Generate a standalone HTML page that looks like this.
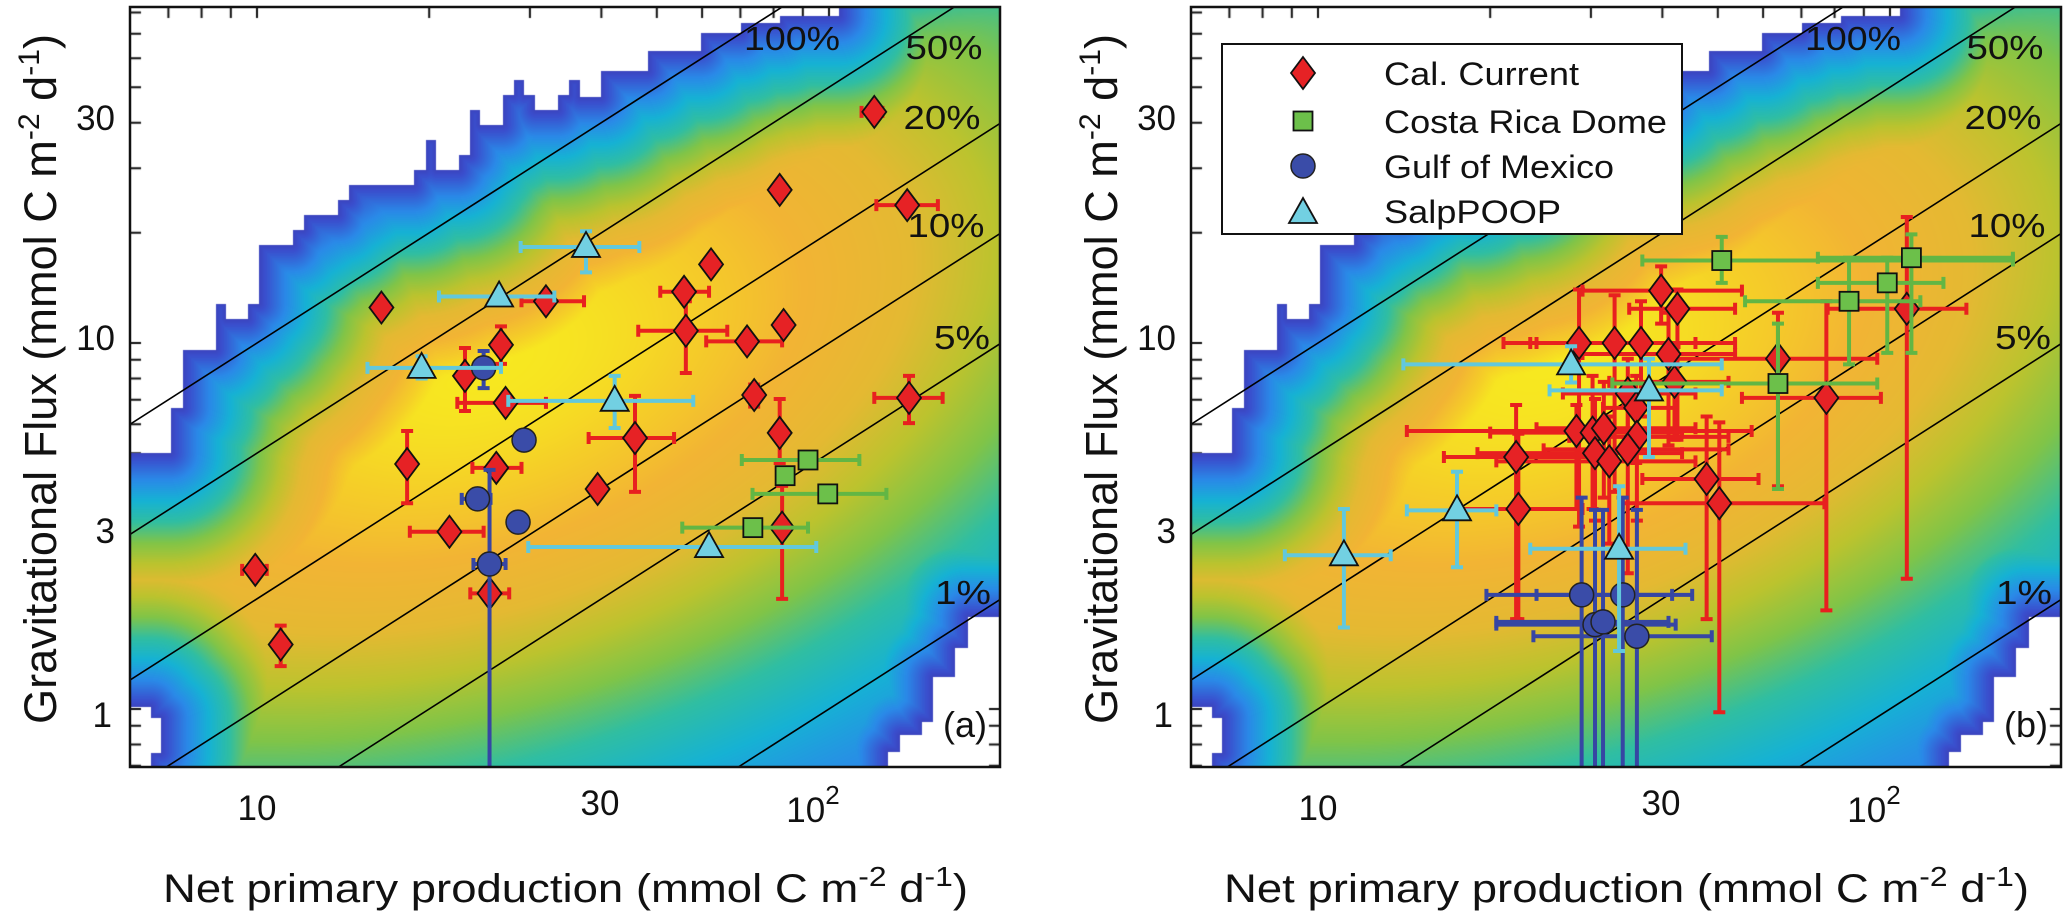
<!DOCTYPE html>
<html><head><meta charset="utf-8">
<style>
html,body{margin:0;width:2066px;height:921px;overflow:hidden}
body{background:#fff;position:relative;font-family:"Liberation Sans",Arial,sans-serif}
canvas{position:absolute;top:7px}
svg{position:absolute;left:0;top:0;overflow:hidden}
text{font-family:"Liberation Sans",Arial,sans-serif;fill:#111}
</style></head>
<body>
<canvas id="bgA" width="870" height="760" style="left:130px"></canvas>
<canvas id="bgB" width="870" height="760" style="left:1191px"></canvas>
<svg id="chart" width="2066" height="921">
<defs>
<clipPath id="clipP"><rect x="0" y="0" width="870" height="760"/></clipPath>
</defs>
<g id="panelA" transform="translate(130,7)">
  <g id="plotA" clip-path="url(#clipP)"></g>
</g>
<g id="panelB" transform="translate(1191,7)">
  <g id="plotB" clip-path="url(#clipP)"></g>
</g>

<g font-size="35" text-anchor="end">
<text x="115" y="130">30</text><text x="115" y="350">10</text><text x="115" y="543">3</text><text x="112" y="727">1</text>
</g>
<g font-size="35" text-anchor="middle">
<text x="257" y="820">10</text><text x="600" y="815">30</text>
<text x="813" y="822">10<tspan dy="-18" font-size="26">2</tspan></text>
</g>
<text transform="translate(56,379) rotate(-90)" text-anchor="middle" font-size="45" textLength="690" lengthAdjust="spacingAndGlyphs">Gravitational Flux (mmol C m<tspan dy="-17" font-size="30">-2</tspan><tspan dy="17"> d</tspan><tspan dy="-17" font-size="30">-1</tspan><tspan dy="17">)</tspan></text>
<text x="163" y="902" font-size="40" textLength="805" lengthAdjust="spacingAndGlyphs">Net primary production (mmol C m<tspan dy="-16" font-size="28">-2</tspan><tspan dy="16"> d</tspan><tspan dy="-16" font-size="28">-1</tspan><tspan dy="16">)</tspan></text>
<text x="965" y="737" font-size="36" text-anchor="middle">(a)</text>

<g font-size="35" text-anchor="end">
<text x="1176" y="130">30</text><text x="1176" y="350">10</text><text x="1176" y="543">3</text><text x="1173" y="727">1</text>
</g>
<g font-size="35" text-anchor="middle">
<text x="1318" y="820">10</text><text x="1661" y="815">30</text>
<text x="1874" y="822">10<tspan dy="-18" font-size="26">2</tspan></text>
</g>
<text transform="translate(1117,379) rotate(-90)" text-anchor="middle" font-size="45" textLength="690" lengthAdjust="spacingAndGlyphs">Gravitational Flux (mmol C m<tspan dy="-17" font-size="30">-2</tspan><tspan dy="17"> d</tspan><tspan dy="-17" font-size="30">-1</tspan><tspan dy="17">)</tspan></text>
<text x="1224" y="902" font-size="40" textLength="805" lengthAdjust="spacingAndGlyphs">Net primary production (mmol C m<tspan dy="-16" font-size="28">-2</tspan><tspan dy="16"> d</tspan><tspan dy="-16" font-size="28">-1</tspan><tspan dy="16">)</tspan></text>
<text x="2026" y="737" font-size="36" text-anchor="middle">(b)</text>

<g id="legend">
<rect x="1222" y="44" width="460" height="190" fill="#fff" stroke="#111" stroke-width="2"/>
<text x="1384" y="85" font-size="32" textLength="195" lengthAdjust="spacingAndGlyphs">Cal. Current</text>
<text x="1384" y="133" font-size="32" textLength="283" lengthAdjust="spacingAndGlyphs">Costa Rica Dome</text>
<text x="1384" y="178" font-size="32" textLength="230" lengthAdjust="spacingAndGlyphs">Gulf of Mexico</text>
<text x="1384" y="223" font-size="32" textLength="177" lengthAdjust="spacingAndGlyphs">SalpPOOP</text>
</g>
</svg>
<script>
const effValues=[1,0.5,0.2,0.1,0.05,0.01];
const effLabels=["100%","50%","20%","10%","5%","1%"];
const xTickVals=[7,8,9,10,20,30,40,50,60,70,80,90,100,200];
const yTickVals=[0.7,0.8,0.9,1,2,3,4,5,6,7,8,9,10,20,30,40,50,60,70,80];

const aCalX=[120,82,137,62.2,55.8,32,16.5,56.2,83.3,71.9,26.7,23.1,27.2,74,138,45.8,82,18.3,26.2,39.4,21.7,82.8,9.93,25.5,11.0];
const aCalY=[42.8,26.2,23.8,16.4,13.8,13.0,12.5,10.8,11.2,10.1,9.88,8.13,6.86,7.21,7.08,5.5,5.68,4.67,4.56,3.99,3.05,3.13,2.40,2.07,1.50];
const aCalXlo=[114,82,121,62.2,50.7,29.0,16.5,46.4,83.3,61.0,26.7,23.1,22.4,74,120,38.0,82,18.3,23.8,39.4,18.5,82.8,9.42,23.6,11.0];
const aCalXhi=[124,82,155,62.2,61.7,37.3,16.5,66.4,83.3,82.8,26.7,23.1,32.0,74,158,53.6,82,18.3,29.0,39.4,24.9,82.8,10.4,27.6,11.0];
const aCalYlo=[42.8,26.2,23.8,16.4,13.8,13.0,12.5,8.28,11.2,10.1,8.77,6.52,6.86,6.7,6.04,3.92,4.70,3.65,4.56,3.99,3.05,2.0,2.40,2.07,1.31];
const aCalYhi=[42.8,26.2,23.8,16.4,13.8,13.0,12.5,13.0,11.2,10.1,11.1,9.69,6.86,7.7,8.13,7.17,7.03,5.75,4.56,3.99,3.05,4.07,2.40,2.07,1.69];

const aCrdX=[91.9,83.8,99.5,73.6];
const aCrdY=[4.79,4.34,3.87,3.13];
const aCrdXlo=[70.4,83.8,73.5,55.4];
const aCrdXhi=[113,83.8,126,91.9];
const aCrdYlo=[4.79,4.34,3.87,3.13];
const aCrdYhi=[4.79,4.34,3.87,3.13];

const aGomX=[24.9,29.3,24.3,28.6,25.5];
const aGomY=[8.55,5.43,3.75,3.24,2.49];
const aGomXlo=[24.9,29.3,22.8,28.6,23.9];
const aGomXhi=[24.9,29.3,25.6,28.6,27.2];
const aGomYlo=[7.53,5.43,3.75,3.24,0.3];
const aGomYhi=[9.51,5.43,3.75,3.24,4.5];

const aSalpX=[37.6,26.5,19.4,42.2,61.7];
const aSalpY=[18.3,13.4,8.55,6.95,2.77];
const aSalpXlo=[28.9,20.8,15.6,27.5,29.8];
const aSalpXhi=[46.6,33.1,26.7,57.9,95];
const aSalpYlo=[15.6,13.4,8.0,5.86,2.77];
const aSalpYhi=[20.2,13.4,9.2,8.13,2.77];

const bCalX=[39.8,42.5,28.6,33.0,36.7,41.0,63.7,42.0,34.8,36.0,77.4,28.3,30.2,31.6,36.1,34.8,30.5,32.3,22.2,22.4,47.8,50.3,107];
const bCalY=[13.9,12.4,10.0,10.0,10.0,9.33,9.06,7.83,7.28,6.65,7.08,5.75,5.69,5.85,5.54,5.12,5.0,4.75,4.88,3.52,4.25,3.65,12.4];
const bCalXlo=[29.0,35.0,21.1,23.5,24.1,29.0,41.0,32.3,26.8,31.5,55.1,14.3,20.0,24.1,27.5,24.8,19.0,20.5,16.6,17.5,36.9,34.1,77.8];
const bCalXhi=[55.1,53.6,41.0,45.7,53.6,53.6,95.0,52.2,45.7,42.2,96.4,57.3,43.3,45.7,52.2,52.2,43.3,45.7,29.8,29.0,58.9,76.8,136];
const bCalYlo=[11.3,5.44,3.15,3.92,6.30,5.25,4.06,5.44,5.44,4.70,1.86,3.52,3.52,3.78,3.27,2.35,3.27,2.83,1.76,1.76,1.76,0.98,2.27];
const bCalYhi=[16.2,14.0,14.0,13.5,13.0,12.1,12.1,9.75,9.06,8.13,13.0,6.77,8.13,7.83,6.77,6.77,7.03,6.30,6.77,5.65,6.30,6.07,22.1];

const bCrdX=[50.8,109,98.9,84.8,63.7];
const bCrdY=[16.8,17.1,14.6,13.0,7.75];
const bCrdXlo=[36.9,74.8,74.8,55.8,32.7];
const bCrdXhi=[164,164,124,113,95.0];
const bCrdYlo=[14.6,9.4,9.4,8.74,3.99];
const bCrdYhi=[19.5,19.8,17.1,17.1,11.3];

const bGomX=[28.9,34.1,30.5,31.5,36.1];
const bGomY=[2.05,2.05,1.70,1.73,1.58];
const bGomXlo=[19.7,24.1,20.5,20.5,23.8];
const bGomXhi=[45.1,41.6,42.2,41.0,48.8];
const bGomYlo=[0.3,0.3,0.3,0.3,0.3];
const bGomYhi=[3.78,3.78,3.5,3.5,3.5];

const bSalpX=[27.7,37.9,17.5,11.1,33.6];
const bSalpY=[8.74,7.42,3.49,2.63,2.74];
const bSalpXlo=[14.1,25.4,14.3,8.75,23.5];
const bSalpXhi=[50.8,50.8,20.5,13.4,43.9];
const bSalpYlo=[7.8,4.88,2.44,1.67,1.44];
const bSalpYhi=[9.8,9.06,4.45,3.52,4.06];

const PW=870, PH=760;
function X(v){return 127+(Math.log10(v)-1)*572;}
function Y(v){return 702-Math.log10(v)*366;}

const NS="http://www.w3.org/2000/svg";
function mk(tag,attrs,parent){const e=document.createElementNS(NS,tag);for(const k in attrs)e.setAttribute(k,attrs[k]);parent.appendChild(e);return e;}

const whiteRects=[
[130,170,0,452],[170,182,0,407],[182,215,0,349],[215,226,0,303],[226,247,0,318],[247,258,0,303],
[258,292,0,244],[292,303,0,229],[303,337,0,214],[337,348,0,199],[348,413,0,184],[413,425,0,169],
[425,436,0,139],[436,458,0,169],[458,469,0,154],[469,480,0,109],[480,502,0,124],[502,513,0,94],
[513,524,0,79],[524,535,0,94],[535,557,0,109],[557,568,0,94],[568,580,0,79],[580,600,0,96],
[600,647,0,70],[647,700,0,50],[700,740,0,32],[740,779,0,22],[779,838,0,15],
[968,1000,617,800],[955,968,648,800],[933,955,677,800],[922,933,722,800],[900,922,735,800],[888,900,752,800],
[130,150,707,800],[150,160,718,752]
].map(r=>[r[0]-130,r[1]-130,r[2]-7,r[3]-7]);
const stops=[[0,[62,45,150]],[0.1,[58,78,205]],[0.2,[42,138,232]],[0.3,[22,178,212]],[0.4,[48,190,162]],[0.5,[128,196,72]],[0.6,[188,195,46]],[0.7,[228,185,50]],[0.82,[242,180,52]],[0.92,[245,206,40]],[1,[247,232,32]]];
function cmap(v){v=Math.max(0,Math.min(1,v));for(let i=1;i<stops.length;i++){if(v<=stops[i][0]){const a=stops[i-1],b=stops[i];const t=(v-a[0])/(b[0]-a[0]);return [0,1,2].map(k=>a[1][k]+(b[1][k]-a[1][k])*t);}}return stops[stops.length-1][1];}
function field(px,py){
  const u=1+(px-127)/572, w=(702-py)/366;
  const d=w-u, s=u+w;
  const dd=d+0.45, ds=s-2.35;
  const sd=dd>0?0.33:1.0;
  return Math.exp(-0.5*(dd/sd)*(dd/sd)-0.5*(ds/1.45)*(ds/1.45));
}
function renderBg(){
  const c=document.getElementById('bgA');const ctx=c.getContext('2d');
  const img=ctx.createImageData(PW,PH);const D=img.data;
  for(let py=0;py<PH;py++){for(let px=0;px<PW;px++){
    let inside=false,md=1e9;
    for(const r of whiteRects){
      const dx=px<r[0]?r[0]-px:(px>r[1]?px-r[1]:0);
      const dy=py<r[2]?r[2]-py:(py>r[3]?py-r[3]:0);
      if(dx===0&&dy===0){inside=true;break;}
      const dd=Math.sqrt(dx*dx+dy*dy);if(dd<md)md=dd;
    }
    const i=(py*PW+px)*4;
    if(inside){D[i+3]=0;continue;}
    let v=field(px,py);
    v=Math.min(v,0.07+md/210);
    const col=cmap(v);
    D[i]=col[0];D[i+1]=col[1];D[i+2]=col[2];D[i+3]=255;
  }}
  ctx.putImageData(img,0,0);
  ctx.globalCompositeOperation='destination-over';
  ctx.strokeStyle='#111';ctx.lineWidth=2;
  for(const v of xTickVals){const x=X(v);ctx.beginPath();ctx.moveTo(x,0);ctx.lineTo(x,11);ctx.moveTo(x,PH);ctx.lineTo(x,PH-11);ctx.stroke();}
  for(const v of yTickVals){const y=Y(v);ctx.beginPath();ctx.moveTo(0,y);ctx.lineTo(11,y);ctx.moveTo(PW,y);ctx.lineTo(PW-11,y);ctx.stroke();}
  ctx.fillStyle='#fff';ctx.fillRect(0,0,PW,PH);
  const cb=document.getElementById('bgB').getContext('2d');cb.drawImage(c,0,0);
}
renderBg();

const effPos=[[662,31],[814,40],[812,110],[816,218],[832,330],[833,585]];
function drawEff(plot,panel){
  effValues.forEach((p,i)=>{
    const l=mk('line',{x1:X(4),y1:Y(4*p),x2:X(400),y2:Y(400*p),stroke:'#000','stroke-width':1.6},plot);
    
    
  });
  effLabels.forEach((t,i)=>{
    const len=t.length===4?96:(t.length===3?77:56);
    const tx=mk('text',{x:effPos[i][0],y:effPos[i][1]+12,'text-anchor':'middle','font-size':33,textLength:len,lengthAdjust:'spacingAndGlyphs'},panel);
    tx.textContent=t;
    
    
  });
}

function marker(g,shape,cx,cy,fill){
  let e;
  if(shape==='diamond')e=mk('polygon',{points:`${cx},${cy-16} ${cx+12},${cy} ${cx},${cy+16} ${cx-12},${cy}`,fill:fill,stroke:'#111','stroke-width':1.8},g);
  else if(shape==='square')e=mk('rect',{x:cx-9.5,y:cy-9.5,width:19,height:19,fill:fill,stroke:'#111','stroke-width':1.8},g);
  else if(shape==='circle')e=mk('circle',{cx:cx,cy:cy,r:12,fill:fill,stroke:'#222','stroke-width':1.5},g);
  else e=mk('polygon',{points:`${cx},${cy-15} ${cx+14},${cy+10} ${cx-14},${cy+10}`,fill:fill,stroke:'#111','stroke-width':1.8},g);
  return e;
}
function drawSeries(plot,name,xs,ys,xlo,xhi,ylo,yhi,barColor,shape,fill){
  const g=mk('g',{},plot);
  
  
  xs.forEach((xv,i)=>{
    const cx=X(xv),cy=Y(ys[i]);
    if(xlo[i]!==xhi[i]){
      const a=X(xlo[i]),b=X(xhi[i]);
      const l=mk('path',{d:`M${a},${cy}H${b}M${a},${cy-6}V${cy+6}M${b},${cy-6}V${cy+6}`,stroke:barColor,'stroke-width':4,fill:'none'},g);
      
      
    }
    if(ylo[i]!==yhi[i]){
      const a=Y(ylo[i]),b=Y(yhi[i]);
      const l=mk('path',{d:`M${cx},${a}V${b}M${cx-6},${a}H${cx+6}M${cx-6},${b}H${cx+6}`,stroke:barColor,'stroke-width':4,fill:'none'},g);
      
      
    }
  });
  xs.forEach((xv,i)=>{
    const m=marker(g,shape,X(xv),Y(ys[i]),fill);
    
    
  });
}
const RED='#e8201f',REDF='#e62225',GRN='#62b644',GRNF='#6cc04a',BLU='#3646a3',BLUF='#3a4ca8',CYN='#62c8dc',CYNF='#72d0e2';

const plotA=document.getElementById('plotA'),plotB=document.getElementById('plotB');
const panelA=document.getElementById('panelA'),panelB=document.getElementById('panelB');
drawEff(plotA,panelA);drawEff(plotB,panelB);

drawSeries(plotA,'a-cal-current',aCalX,aCalY,aCalXlo,aCalXhi,aCalYlo,aCalYhi,RED,'diamond',REDF);
drawSeries(plotA,'a-costa-rica-dome',aCrdX,aCrdY,aCrdXlo,aCrdXhi,aCrdYlo,aCrdYhi,GRN,'square',GRNF);
drawSeries(plotA,'a-gulf-of-mexico',aGomX,aGomY,aGomXlo,aGomXhi,aGomYlo,aGomYhi,BLU,'circle',BLUF);
drawSeries(plotA,'a-salppoop',aSalpX,aSalpY,aSalpXlo,aSalpXhi,aSalpYlo,aSalpYhi,CYN,'triangle',CYNF);

drawSeries(plotB,'b-cal-current',bCalX,bCalY,bCalXlo,bCalXhi,bCalYlo,bCalYhi,RED,'diamond',REDF);
drawSeries(plotB,'b-costa-rica-dome',bCrdX,bCrdY,bCrdXlo,bCrdXhi,bCrdYlo,bCrdYhi,GRN,'square',GRNF);
drawSeries(plotB,'b-gulf-of-mexico',bGomX,bGomY,bGomXlo,bGomXhi,bGomYlo,bGomYhi,BLU,'circle',BLUF);
drawSeries(plotB,'b-salppoop',bSalpX,bSalpY,bSalpXlo,bSalpXhi,bSalpYlo,bSalpYhi,CYN,'triangle',CYNF);

[panelA,panelB].forEach((p,i)=>{
  const f=mk('rect',{x:0,y:0,width:PW,height:PH,fill:'none',stroke:'#111','stroke-width':2.5},p);
  
  
});

const lg=document.getElementById('legend');
const lm1=marker(lg,'diamond',1303,73,REDF);


const lm2=marker(lg,'square',1303,121,GRNF);


const lm3=marker(lg,'circle',1303,166,BLUF);


const lm4=marker(lg,'triangle',1303,213,CYNF);


</script>
</body></html>
